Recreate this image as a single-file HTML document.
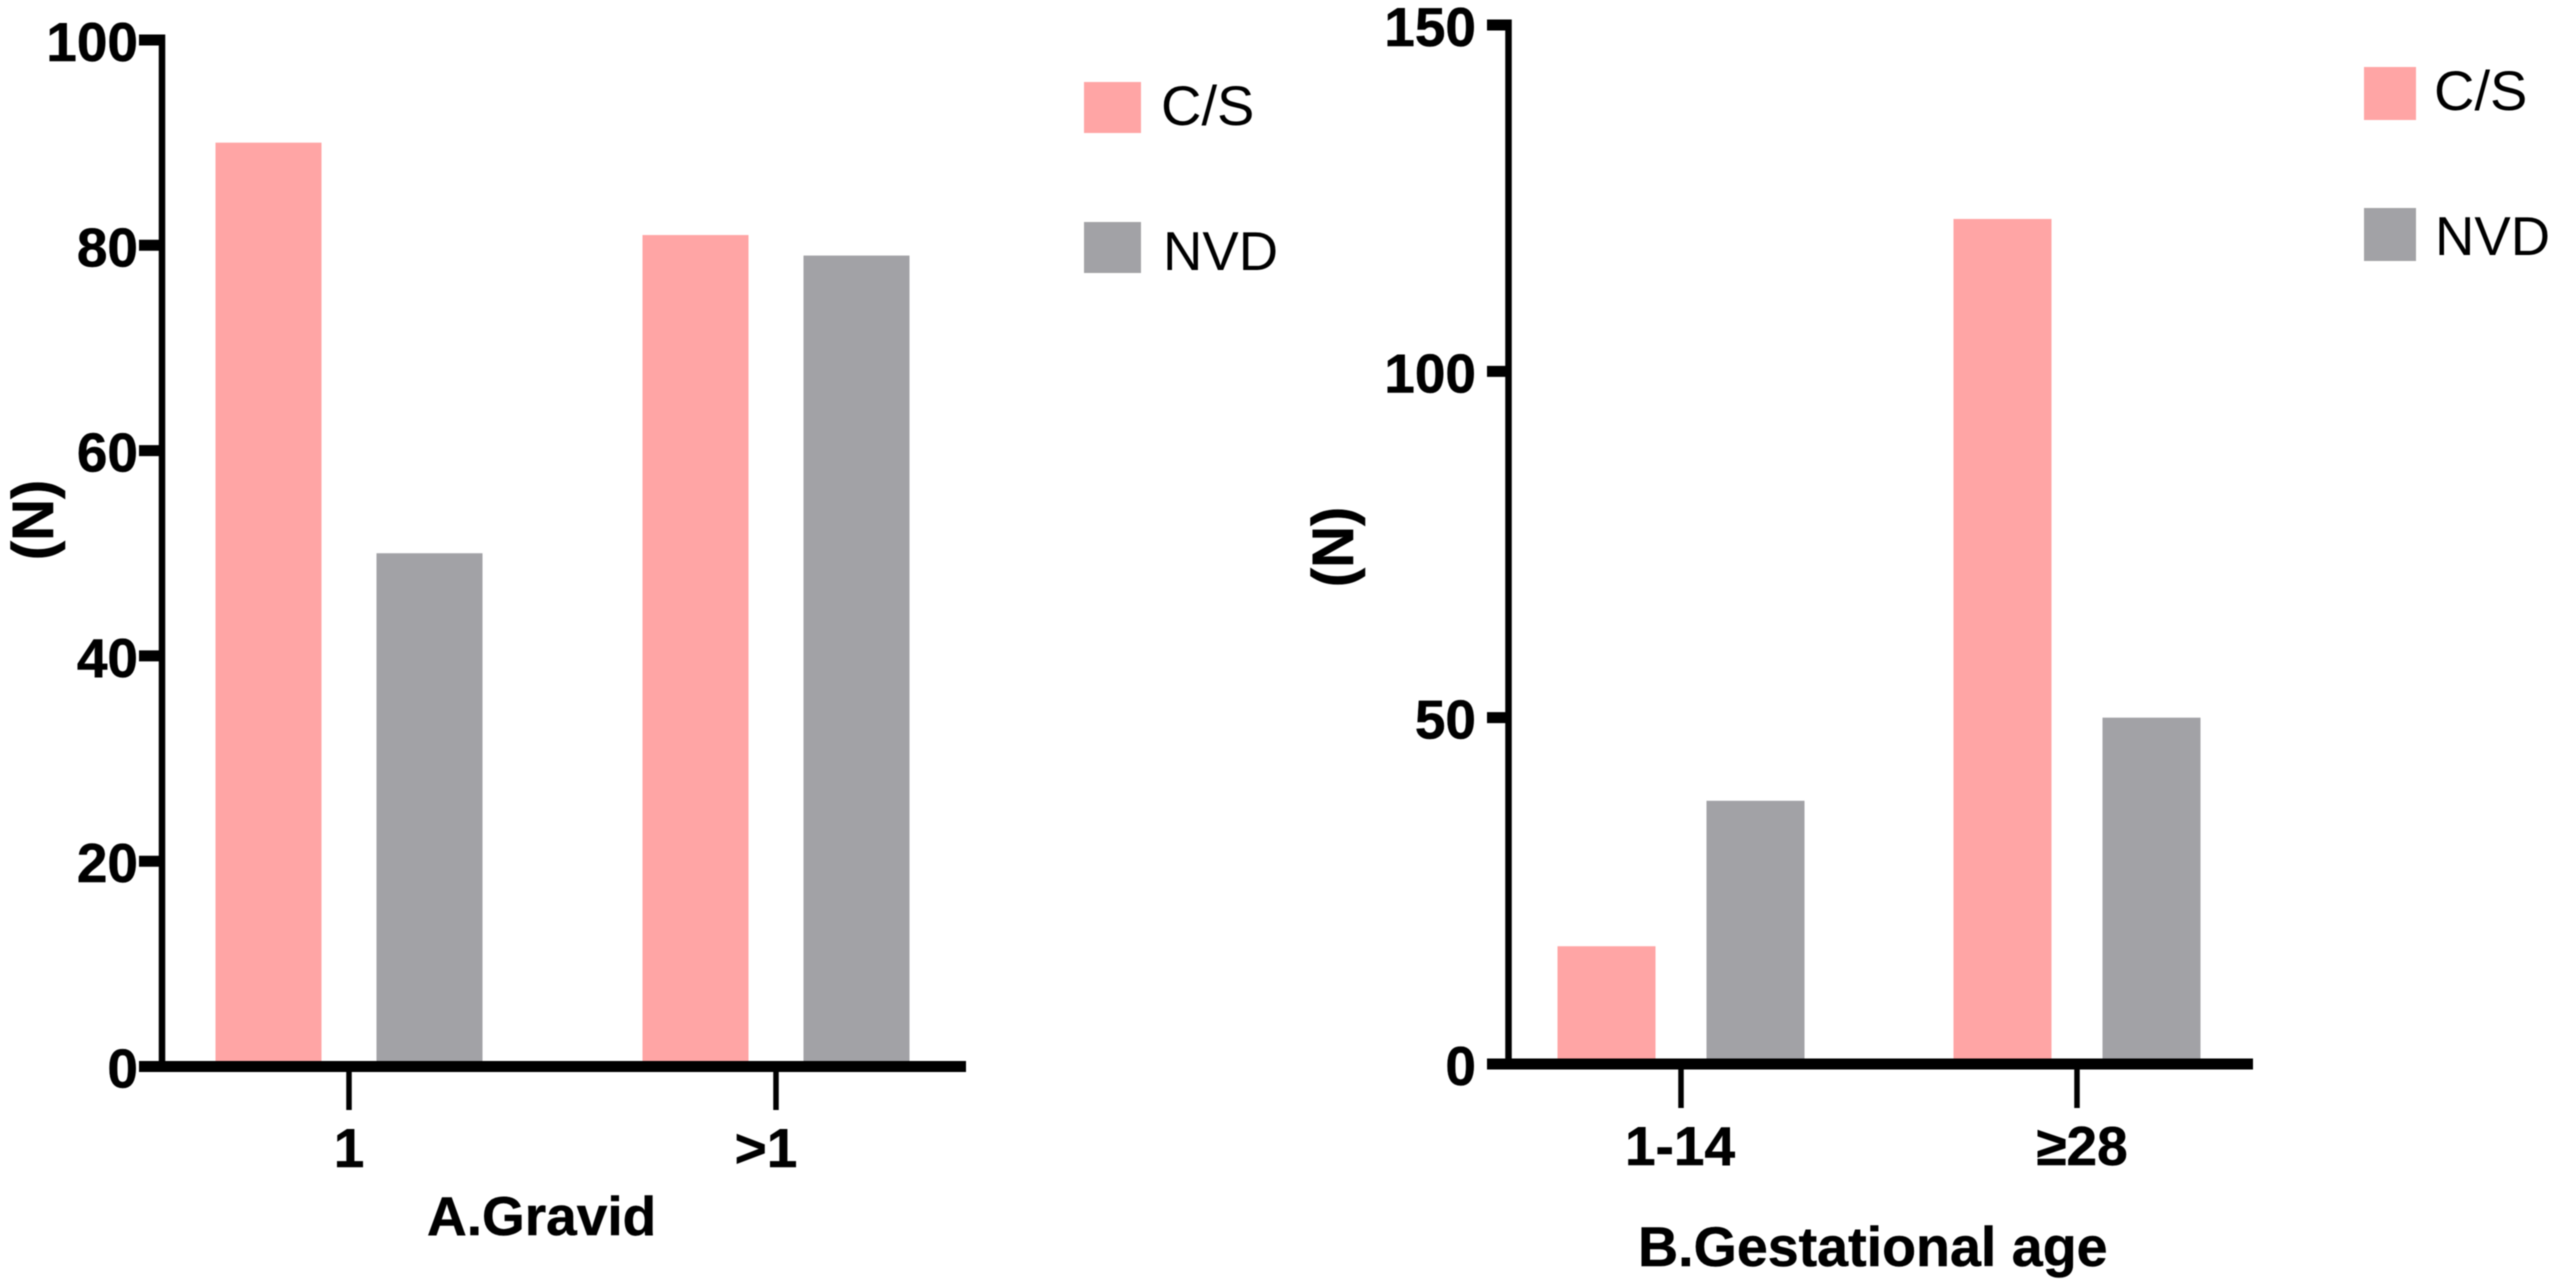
<!DOCTYPE html>
<html lang="en">
<head>
<meta charset="utf-8">
<title>C/S and NVD counts by gravid and gestational age</title>
<style>
  html, body { margin: 0; padding: 0; background: #fff; }
  body { width: 2552px; height: 1287px; overflow: hidden; }
  svg { display: block; filter: blur(0.6px); }
  text { font-family: "Liberation Sans", Arial, sans-serif; fill: #000; }
  .bold { font-weight: 700; font-size: 55px; stroke: #000; stroke-width: 0.5px; }
  .title-b { font-size: 55.6px; }
  .n-title { font-size: 58px; }
  .legend { font-size: 56px; }
  .legend-nvd { font-size: 54.5px; }
</style>
</head>
<body>
<svg id="figure" xmlns="http://www.w3.org/2000/svg" width="2552" height="1287" viewBox="0 0 2552 1287">
  <rect x="0" y="0" width="2552" height="1287" fill="#ffffff"/>
  <g id="chart-a"></g>
  <g id="chart-b"></g>

  <text class="bold" x="427" y="1235">A.Gravid</text>
  <text class="bold title-b" x="1638" y="1266">B.Gestational age</text>
  <text class="bold n-title" text-anchor="middle" transform="translate(53 520) rotate(-90)">(N)</text>
  <text class="bold n-title" text-anchor="middle" transform="translate(1353 547) rotate(-90)">(N)</text>

  <g>
    <rect x="1084" y="82" width="57" height="51" fill="#ffa5a5"/>
    <text class="legend" x="1161" y="125">C/S</text>
    <rect x="1084" y="222" width="57" height="51" fill="#a2a2a6"/>
    <text class="legend legend-nvd" x="1163" y="270">NVD</text>
  </g>
  <g>
    <rect x="2364" y="67" width="52" height="53" fill="#ffa5a5"/>
    <text class="legend" x="2434" y="110">C/S</text>
    <rect x="2364" y="208" width="52" height="53" fill="#a2a2a6"/>
    <text class="legend legend-nvd" x="2435" y="255">NVD</text>
  </g>
</svg>
<script>
// Chart A: Gravid
const gravidCategories = ['1', '>1'];
const gravidCS = [90, 81];
const gravidNVD = [50, 79];
const gravidTicks = [0, 20, 40, 60, 80, 100];

// Chart B: Gestational age
const gestCategories = ['1-14', '\u226528'];
const gestCS = [17, 122];
const gestNVD = [38, 50];
const gestTicks = [0, 50, 100, 150];

const SVG_NS = 'http://www.w3.org/2000/svg';
const PINK = '#ffa5a5';
const GREY = '#a2a2a6';

function make(parent, tag, attrs) {
  const el = document.createElementNS(SVG_NS, tag);
  Object.keys(attrs).forEach(function (k) { el.setAttribute(k, attrs[k]); });
  parent.appendChild(el);
  return el;
}

function drawChart(opts) {
  const root = document.getElementById(opts.id);
  const yScale = function (v) {
    return opts.yZero - (v / opts.yMax) * (opts.yZero - opts.yTop);
  };
  const xScale = function (i) { return opts.xFirst + i * opts.xStep; };

  // bars
  opts.categories.forEach(function (cat, i) {
    [[opts.cs, PINK, -1, 'cs'], [opts.nvd, GREY, 1, 'nvd']].forEach(function (s) {
      const v = s[0][i];
      const cx = xScale(i) + s[2] * opts.barOffset;
      const bar = make(root, 'rect', {
        x: cx - opts.barWidth / 2,
        y: yScale(v),
        width: opts.barWidth,
        height: yScale(0) - yScale(v),
        fill: s[1]
      });
      
      
    });
  });

  // y axis line
  const yLine = make(root, 'line', {
    x1: opts.axisX, x2: opts.axisX,
    y1: yScale(opts.yMax) - 5.5, y2: yScale(0),
    stroke: '#000', 'stroke-width': 6.5
  });
  
  

  // y ticks and labels
  opts.ticks.forEach(function (t) {
    const y = yScale(t);
    const tick = make(root, 'line', {
      x1: opts.tickLeft, x2: opts.axisX,
      y1: y, y2: y,
      stroke: '#000', 'stroke-width': 11
    });
    
    
    const label = make(root, 'text', {
      x: opts.labelRight, y: y + 21,
      'text-anchor': 'end', 'class': 'bold'
    });
    label.textContent = String(t);
    
    
  });

  // x axis line
  const xLine = make(root, 'line', {
    x1: opts.tickLeft, x2: opts.xEnd,
    y1: yScale(0), y2: yScale(0),
    stroke: '#000', 'stroke-width': 11
  });
  
  

  // x ticks and labels
  opts.categories.forEach(function (cat, i) {
    const x = xScale(i);
    const tick = make(root, 'line', {
      x1: x, x2: x,
      y1: yScale(0), y2: opts.tickBottom,
      stroke: '#000', 'stroke-width': 5.5
    });
    
    
    const label = make(root, 'text', {
      x: x + opts.labelNudge[i], y: opts.catBaseline,
      'text-anchor': 'middle', 'class': 'bold'
    });
    label.textContent = cat;
    
    
  });
}

drawChart({
  id: 'chart-a',
  categories: gravidCategories, cs: gravidCS, nvd: gravidNVD, ticks: gravidTicks,
  yMax: 100, yZero: 1066.5, yTop: 40,
  xFirst: 349, xStep: 427, barOffset: 80.5, barWidth: 106,
  axisX: 162, tickLeft: 139, labelRight: 138, xEnd: 966,
  tickBottom: 1110, catBaseline: 1167, labelNudge: [0, -10]
});

drawChart({
  id: 'chart-b',
  categories: gestCategories, cs: gestCS, nvd: gestNVD, ticks: gestTicks,
  yMax: 150, yZero: 1064, yTop: 25,
  xFirst: 1681, xStep: 396, barOffset: 74.5, barWidth: 98,
  axisX: 1508.5, tickLeft: 1487, labelRight: 1476, xEnd: 2253,
  tickBottom: 1108, catBaseline: 1165, labelNudge: [-1, 5]
});
</script>
</body>
</html>
